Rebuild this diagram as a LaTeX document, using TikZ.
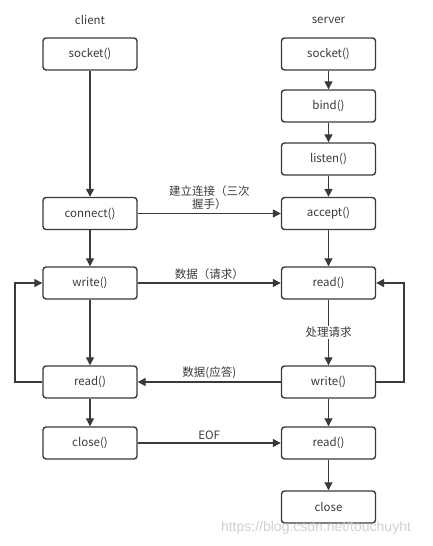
\documentclass[tikz,border=0pt]{standalone}
\usepackage{fontspec}
\setmainfont{Noto Sans CJK SC}
\newfontfamily\wmfont{Liberation Sans}
\usepackage{xcolor}
\usepackage{tikz}
\usetikzlibrary{arrows.meta}
\definecolor{line}{HTML}{3a3a3a}
\definecolor{wmark}{HTML}{d0d0d0}

\begin{document}
\begin{tikzpicture}[
      x=1pt,y=-1pt,
      box/.style={rectangle,rounded corners=3pt,draw=line,line width=1.4pt,fill=white,
                  minimum width=94pt,minimum height=32pt,
                  font=\fontsize{11.5}{13}\selectfont,text=line,align=center},
      title/.style={font=\fontsize{11.5}{13}\selectfont,text=line},
      lbl/.style={font=\fontsize{11.5}{13}\selectfont,text=line,align=center,inner sep=1pt},
      arrow/.style={-{Triangle[length=8pt,width=8pt]},line width=1.3pt,draw=line}
    ]
    \useasboundingbox (0,0) rectangle (432,546);

    % titles
    \node[title] (tcli) at (90,20) {client};
    \node[title] (tsrv) at (328.5,20) {server};

    % client
    \node[box] (csock)  at (90, 54) {socket()};
    \node[box] (conn)   at (90,213.5) {connect()};
    \node[box] (cwrite) at (90,283) {write()};
    \node[box] (cread)  at (90,382) {read()};
    \node[box] (cclose) at (90,443) {close()};

    % server
    \node[box] (ssock)  at (328.5, 54) {socket()};
    \node[box] (bind)   at (328.5,106) {bind()};
    \node[box] (listen) at (328.5,159) {listen()};
    \node[box] (acc)    at (328.5,213.5) {accept()};
    \node[box] (sread)  at (328.5,283) {read()};
    \node[box] (swrite) at (328.5,382) {write()};
    \node[box] (sread2) at (328.5,443) {read()};
    \node[box] (sclose) at (328.5,507) {close};

    % loop corners
    \coordinate (cl1) at (15,382);
    \coordinate (cl2) at (15,283);
    \coordinate (sr1) at (404,382);
    \coordinate (sr2) at (404,283);

    % arrows
    \draw[arrow] (csock)  -- (conn);
    \draw[arrow] (conn)   -- (cwrite);
    \draw[arrow] (cwrite) -- (cread);
    \draw[arrow] (cread)  -- (cclose);
    \draw[arrow] (ssock)  -- (bind);
    \draw[arrow] (bind)   -- (listen);
    \draw[arrow] (listen) -- (acc);
    \draw[arrow] (acc)    -- (sread);
    \draw[arrow] (sread)  -- node[lbl,fill=white]{处理请求} (swrite);
    \draw[arrow] (swrite) -- (sread2);
    \draw[arrow] (sread2) -- (sclose);
    \draw[arrow] (conn)   -- node[lbl,above=2pt]{建立连接（三次\\握手）} (acc);
    \draw[arrow] (cwrite) -- node[lbl,above=2pt]{数据（请求）} (sread);
    \draw[arrow] (swrite) -- node[lbl,above=2pt]{数据(应答)} (cread);
    \draw[arrow] (cclose) -- node[lbl,above=2pt]{EOF} (sread2);
    \draw[arrow] (cread.west)  -- (cl1) -- (cl2) -- (cwrite.west);
    \draw[arrow] (swrite.east) -- (sr1) -- (sr2) -- (sread.east);

    % watermark
    \node[font=\wmfont\fontsize{14}{16}\selectfont,text=wmark,inner sep=0pt] (wm) at (316,528) {https://blog.csdn.net/touchuyht};

  \end{tikzpicture}
\end{document}
